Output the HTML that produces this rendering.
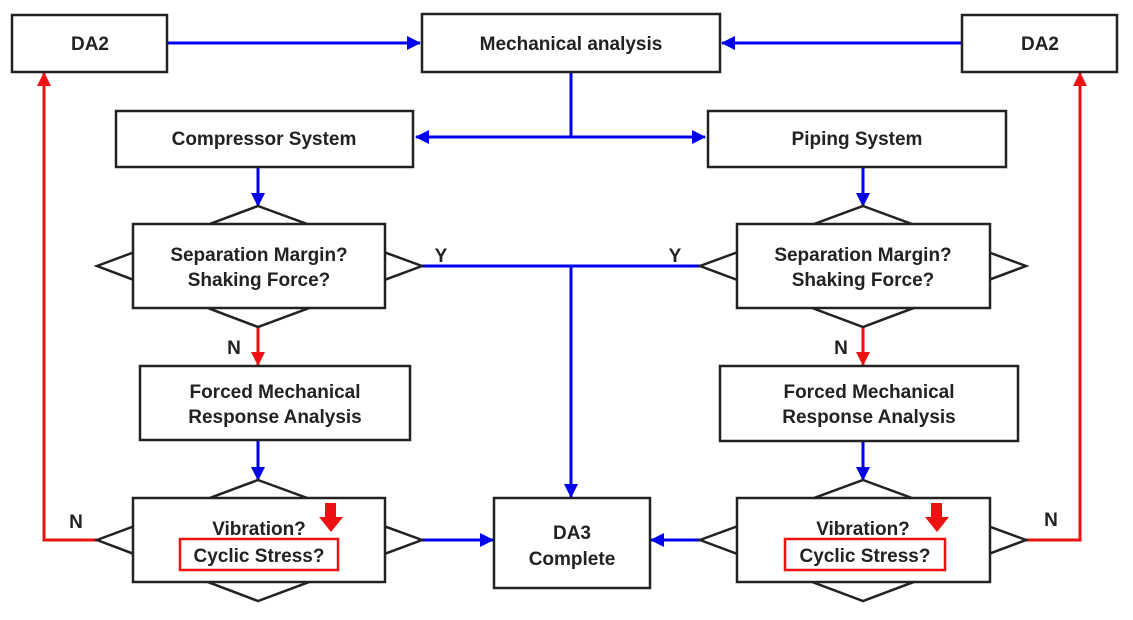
<!DOCTYPE html>
<html><head><style>
html,body{margin:0;padding:0;background:#fff;}
svg text{font-family:"Liberation Sans",Arial,sans-serif;font-weight:bold;font-size:19px;fill:#222;text-anchor:middle;}
</style></head><body>
<svg width="1133" height="615" viewBox="0 0 1133 615" xmlns="http://www.w3.org/2000/svg">
<defs>
<marker id="ab" markerWidth="14" markerHeight="14" refX="13" refY="7" orient="auto" markerUnits="userSpaceOnUse"><path d="M0,0 L14,7 L0,14 z" fill="#0000ee"/></marker>
<marker id="ar" markerWidth="14" markerHeight="14" refX="13" refY="7" orient="auto" markerUnits="userSpaceOnUse"><path d="M0,0 L14,7 L0,14 z" fill="#ee1111"/></marker>
</defs>
<g stroke="#0000ee" stroke-width="3" fill="none">
<line x1="167" y1="43" x2="420" y2="43" marker-end="url(#ab)"/>
<line x1="962" y1="43" x2="722" y2="43" marker-end="url(#ab)"/>
<line x1="571" y1="72" x2="571" y2="137"/>
<line x1="571" y1="137" x2="416" y2="137" marker-end="url(#ab)"/>
<line x1="571" y1="137" x2="705" y2="137" marker-end="url(#ab)"/>
<line x1="258" y1="167" x2="258" y2="206" marker-end="url(#ab)"/>
<line x1="863" y1="167" x2="863" y2="206" marker-end="url(#ab)"/>
<line x1="422" y1="266" x2="700" y2="266"/>
<line x1="571" y1="266" x2="571" y2="497" marker-end="url(#ab)"/>
<line x1="258" y1="440" x2="258" y2="480" marker-end="url(#ab)"/>
<line x1="863" y1="441" x2="863" y2="480" marker-end="url(#ab)"/>
<line x1="422" y1="540" x2="493" y2="540" marker-end="url(#ab)"/>
<line x1="700" y1="540" x2="651" y2="540" marker-end="url(#ab)"/>
</g>
<g stroke="#ee1111" stroke-width="3" fill="none">
<line x1="258" y1="327" x2="258" y2="365" marker-end="url(#ar)"/>
<line x1="863" y1="328" x2="863" y2="365" marker-end="url(#ar)"/>
<polyline points="97,540 44,540 44,73" marker-end="url(#ar)"/>
<polyline points="1026,540 1080,540 1080,73" marker-end="url(#ar)"/>
</g>
<g stroke="#222" stroke-width="2.5" fill="#fff">
<rect x="12" y="15" width="155" height="57"/>
<rect x="422" y="14" width="298" height="58"/>
<rect x="962" y="15" width="155" height="57"/>
<rect x="116" y="111" width="297" height="56"/>
<rect x="708" y="111" width="298" height="56"/>
<polygon points="258,206 422,266 258,327 97,266"/>
<rect x="133" y="224" width="252" height="84"/>
<polygon points="863,206 1026,266 863,327 700,266"/>
<rect x="737" y="224" width="253" height="84"/>
<rect x="140" y="366" width="270" height="74"/>
<rect x="720" y="366" width="298" height="75"/>
<polygon points="258,480 422,540 258,601 97,540"/>
<rect x="133" y="498" width="252" height="84"/>
<polygon points="863,480 1026,540 863,601 700,540"/>
<rect x="737" y="498" width="253" height="84"/>
<rect x="494" y="498" width="156" height="90"/>
</g>
<g stroke="#ee1111" stroke-width="2.5" fill="none">
<rect x="180" y="539" width="158" height="31"/>
<rect x="785" y="539" width="160" height="31"/>
</g>
<g fill="#ee1111">
<path d="M325,503 h11 v14 h7 l-12,15 l-12,-15 h6 z"/>
<path d="M931,503 h11 v14 h7 l-12,15 l-12,-15 h6 z"/>
</g>
<text x="90" y="50">DA2</text>
<text x="571" y="50">Mechanical analysis</text>
<text x="1040" y="50">DA2</text>
<text x="264" y="145">Compressor System</text>
<text x="857" y="145">Piping System</text>
<text x="259" y="261">Separation Margin?</text>
<text x="259" y="286">Shaking Force?</text>
<text x="863" y="261">Separation Margin?</text>
<text x="863" y="286">Shaking Force?</text>
<text x="275" y="398">Forced Mechanical</text>
<text x="275" y="423">Response Analysis</text>
<text x="869" y="398">Forced Mechanical</text>
<text x="869" y="423">Response Analysis</text>
<text x="259" y="535">Vibration?</text>
<text x="259" y="562">Cyclic Stress?</text>
<text x="863" y="535">Vibration?</text>
<text x="865" y="562">Cyclic Stress?</text>
<text x="572" y="539">DA3</text>
<text x="572" y="565">Complete</text>
<text x="441" y="262">Y</text>
<text x="675" y="262">Y</text>
<text x="234" y="354">N</text>
<text x="841" y="354">N</text>
<text x="76" y="528">N</text>
<text x="1051" y="526">N</text>
</svg>
</body></html>
